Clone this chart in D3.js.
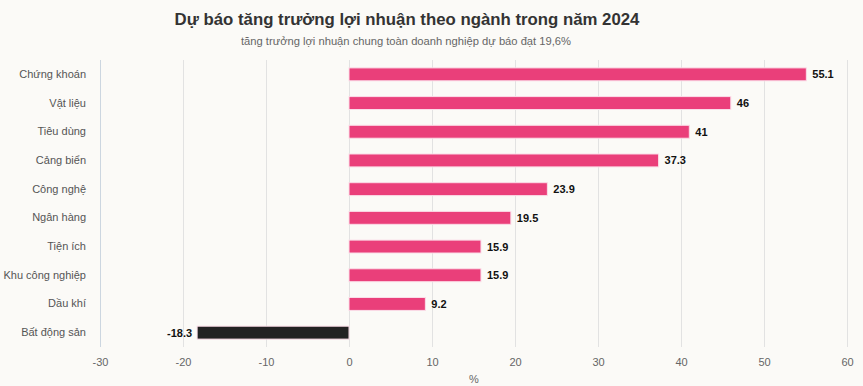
<!DOCTYPE html>
<html>
<head>
<meta charset="utf-8">
<script src="https://cdn.jsdelivr.net/npm/d3@7"></script>
<style>
  body { margin: 0; background: #fbfaf7; }
  svg { display: block; font-family: "Liberation Sans", Arial, sans-serif; }
</style>
</head>
<body>
<div id="chart"></div>
<script>
// data
var sectors = ["Chứng khoán", "Vật liệu", "Tiêu dùng", "Cảng biển", "Công nghệ",
               "Ngân hàng", "Tiện ích", "Khu công nghiệp", "Dầu khí", "Bất động sản"];
var growth = [55.1, 46, 41, 37.3, 23.9, 19.5, 15.9, 15.9, 9.2, -18.3];
var xTicks = [-30, -20, -10, 0, 10, 20, 30, 40, 50, 60];

var W = 863, H = 386;
var margin = {top: 60, right: 16, bottom: 40, left: 100};

var data = sectors.map(function(s, i) { return {name: s, value: growth[i]}; });

var svg = d3.select("#chart").append("svg")
    .attr("width", W)
    .attr("height", H);

svg.append("rect").attr("width", W).attr("height", H).attr("fill", "#fbfaf7");

svg.append("text")
    .attr("x", 407).attr("y", 25)
    .attr("text-anchor", "middle")
    .style("font-size", "16.8px")
    .style("font-weight", "bold")
    .attr("fill", "#333")
    .text("Dự báo tăng trưởng lợi nhuận theo ngành trong năm 2024");

svg.append("text")
    .attr("x", 406).attr("y", 45)
    .attr("text-anchor", "middle")
    .style("font-size", "11.2px")
    .attr("fill", "#666")
    .text("tăng trưởng lợi nhuận chung toàn doanh nghiệp dự báo đạt 19,6%");

var g = svg.append("g")
    .attr("transform", "translate(" + margin.left + "," + margin.top + ")");

var x = d3.scaleLinear().domain([-30, 60]).range([0, 747]);
var y = d3.scaleBand().domain(sectors).range([0, 287]).paddingInner(0.55).paddingOuter(0.275);

// grid
g.selectAll(".grid")
    .data(xTicks)
  .enter().append("line")
    .attr("class", "grid")
    .attr("x1", function(d) { return Math.round(x(d)) + 0.5; })
    .attr("x2", function(d) { return Math.round(x(d)) + 0.5; })
    .attr("y1", 0)
    .attr("y2", 287)
    .attr("stroke", function(d) { return d === -30 ? "#ccd6e0" : "#e2e2e2"; })
    .attr("stroke-width", 1);

// x axis labels
var xAxis = g.append("g")
    .attr("transform", "translate(0," + 287 + ")")
    .call(d3.axisBottom(x).tickValues(xTicks).tickSize(0).tickPadding(11)
      .tickFormat(function(d) { return String(d); }));
xAxis.select(".domain").remove();
xAxis.selectAll("text")
    .style("font-size", "11px")
    .style("font-family", "Liberation Sans, Arial, sans-serif")
    .attr("fill", "#666");

svg.append("text")
    .attr("x", 474).attr("y", 383)
    .attr("text-anchor", "middle")
    .style("font-size", "11px")
    .attr("fill", "#666")
    .text("%");

// y axis labels
var yAxis = g.append("g")
    .call(d3.axisLeft(y).tickSize(0).tickPadding(14));
yAxis.select(".domain").remove();
yAxis.selectAll("text")
    .style("font-size", "11px")
    .style("font-family", "Liberation Sans, Arial, sans-serif")
    .attr("fill", "#555");

// bars
g.selectAll(".bar")
    .data(data)
  .enter().append("rect")
    .attr("class", "bar")
    .attr("x", function(d) { return x(Math.min(0, d.value)); })
    .attr("y", function(d) { return y(d.name); })
    .attr("width", function(d) { return Math.abs(x(d.value) - x(0)); })
    .attr("height", y.bandwidth())
    .attr("fill", function(d) { return d.value < 0 ? "#222222" : "#ea3f7a"; })
    .attr("stroke", "#fbdde8")
    .attr("stroke-width", 1);

// value labels
g.selectAll(".label")
    .data(data)
  .enter().append("text")
    .attr("class", "label")
    .attr("x", function(d) { return d.value < 0 ? x(d.value) - 5 : x(d.value) + 6; })
    .attr("y", function(d) { return y(d.name) + y.bandwidth() / 2; })
    .attr("dy", "0.36em")
    .attr("text-anchor", function(d) { return d.value < 0 ? "end" : "start"; })
    .style("font-size", "11px")
    .style("font-weight", "bold")
    .attr("fill", "#111")
    .text(function(d) { return d.value; });
</script>
</body>
</html>
